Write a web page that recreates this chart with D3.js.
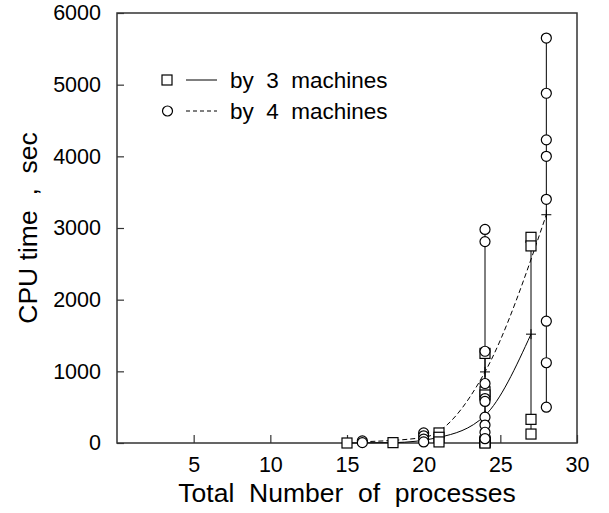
<!DOCTYPE html>
<html>
<head>
<meta charset="utf-8">
<script src="https://cdnjs.cloudflare.com/ajax/libs/d3/7.8.5/d3.min.js"></script>
<style>
  body { margin: 0; background: #fff; }
  text { font-family: "Liberation Sans", Arial, sans-serif; fill: #000; white-space: pre; }
</style>
</head>
<body>
<div id="chart"></div>
<script>
// values
var procs3 = [15, 18, 21, 24, 27];
var cpu3 = [
    [0],
    [5],
    [140, 80, 15],
    [1250, 715, 670, 30, 15, 5, 0],
    [2870, 2750, 330, 125]
];
var procs4 = [16, 20, 24, 28];
var cpu4 = [
    [30, 5],
    [140, 100, 55, 15],
    [2980, 2810, 1280, 830, 620, 580, 360, 250, 150, 60],
    [5650, 4880, 4230, 4000, 3400, 1700, 1120, 500]
];
var xTicks = [5, 10, 15, 20, 25, 30];
var yTicks = [0, 1000, 2000, 3000, 4000, 5000, 6000];
var legendLabels = ["by  3  machines", "by  4  machines"];

var width = 609, height = 513,
    margin = {top: 13, right: 32, bottom: 70, left: 117};

var x = d3.scaleLinear().domain([0, 30]).range([margin.left, width - margin.right]);
var y = d3.scaleLinear().domain([0, 6000]).range([height - margin.bottom, margin.top]);

var svg = d3.select("#chart").append("svg")
    .attr("width", width)
    .attr("height", height);

function series(procs, cpu) {
    return procs.map(function (p, i) {
        return {x: p, vals: cpu[i], mean: d3.mean(cpu[i]), min: d3.min(cpu[i]), max: d3.max(cpu[i])};
    });
}
var s3 = series(procs3, cpu3),
    s4 = series(procs4, cpu4);

// frame
svg.append("rect")
    .attr("x", x(0)).attr("y", y(6000))
    .attr("width", x(30) - x(0)).attr("height", y(0) - y(6000))
    .attr("fill", "none").attr("stroke", "#333").attr("stroke-width", 1.5);

var xAxis = svg.append("g")
    .attr("transform", "translate(0," + y(0) + ")")
    .call(d3.axisBottom(x).tickValues(xTicks).tickSizeInner(-8).tickSizeOuter(0).tickPadding(14));
var yAxis = svg.append("g")
    .attr("transform", "translate(" + x(0) + ",0)")
    .call(d3.axisLeft(y).tickValues(yTicks).tickFormat(d3.format("d"))
        .tickSizeInner(-7).tickSizeOuter(0).tickPadding(16));

[xAxis, yAxis].forEach(function (a) {
    a.select(".domain").remove();
    a.selectAll(".tick line").attr("stroke", "#333").attr("stroke-width", 1.2);
    a.selectAll(".tick text").attr("font-size", 21.5).attr("font-family", null);
});
xAxis.selectAll(".tick text").attr("dy", "0.71em");

// axis titles
svg.append("text")
    .attr("x", x(15)).attr("y", 502)
    .attr("text-anchor", "middle")
    .attr("font-size", 26.5)
    .text("Total  Number  of  processes");

svg.append("text")
    .attr("transform", "translate(37," + y(3000) + ") rotate(-90)")
    .attr("text-anchor", "middle")
    .attr("font-size", 26.5)
    .text("CPU time  ,  sec");

var line = d3.line()
    .x(function (d) { return x(d.x); })
    .y(function (d) { return y(d.mean); })
    .curve(d3.curveMonotoneX);

// range bars
[s3, s4].forEach(function (s) {
    svg.append("g").selectAll("line")
        .data(s.filter(function (d) { return d.vals.length > 1; }))
        .enter().append("line")
        .attr("x1", function (d) { return x(d.x); })
        .attr("x2", function (d) { return x(d.x); })
        .attr("y1", function (d) { return y(d.min); })
        .attr("y2", function (d) { return y(d.max); })
        .attr("stroke", "#000").attr("stroke-width", 1);
});

// mean lines
svg.append("path").datum(s3)
    .attr("d", line).attr("fill", "none")
    .attr("stroke", "#000").attr("stroke-width", 1);
svg.append("path").datum(s4)
    .attr("d", line).attr("fill", "none")
    .attr("stroke", "#000").attr("stroke-width", 1)
    .attr("stroke-dasharray", "5,3");

// mean markers
[s3, s4].forEach(function (s) {
    svg.append("g").selectAll("path")
        .data(s)
        .enter().append("path")
        .attr("d", function (d) {
            var cx = x(d.x), cy = y(d.mean);
            return "M" + (cx - 5) + "," + cy + "H" + (cx + 5) + "M" + cx + "," + (cy - 5) + "V" + (cy + 5);
        })
        .attr("stroke", "#000").attr("stroke-width", 1);
});

// points
function flat(s) {
    var out = [];
    s.forEach(function (d) { d.vals.forEach(function (v) { out.push({x: d.x, v: v}); }); });
    return out;
}
svg.append("g").selectAll("rect")
    .data(flat(s3))
    .enter().append("rect")
    .attr("x", function (d) { return x(d.x) - 5; })
    .attr("y", function (d) { return y(d.v) - 5; })
    .attr("width", 10).attr("height", 10)
    .attr("fill", "#fff").attr("stroke", "#000").attr("stroke-width", 1.2);
svg.append("g").selectAll("circle")
    .data(flat(s4))
    .enter().append("circle")
    .attr("cx", function (d) { return x(d.x); })
    .attr("cy", function (d) { return y(d.v); })
    .attr("r", 5)
    .attr("fill", "#fff").attr("stroke", "#000").attr("stroke-width", 1.2);

// legend
var legend = svg.append("g");
legendLabels.forEach(function (label, i) {
    var ly = 80 + i * 31;
    if (i === 0) {
        legend.append("rect").attr("x", 162).attr("y", ly - 5).attr("width", 10).attr("height", 10)
            .attr("fill", "#fff").attr("stroke", "#000").attr("stroke-width", 1.2);
    } else {
        legend.append("circle").attr("cx", 167.5).attr("cy", ly).attr("r", 5)
            .attr("fill", "#fff").attr("stroke", "#000").attr("stroke-width", 1.2);
    }
    legend.append("line").attr("x1", 186).attr("x2", 217).attr("y1", ly).attr("y2", ly)
        .attr("stroke", "#000").attr("stroke-width", 1)
        .attr("stroke-dasharray", i === 0 ? null : "4,3");
    legend.append("text").attr("x", 230).attr("y", ly).attr("dy", "0.35em")
        .attr("font-size", 22.5)
        .text(label);
});
</script>
</body>
</html>
